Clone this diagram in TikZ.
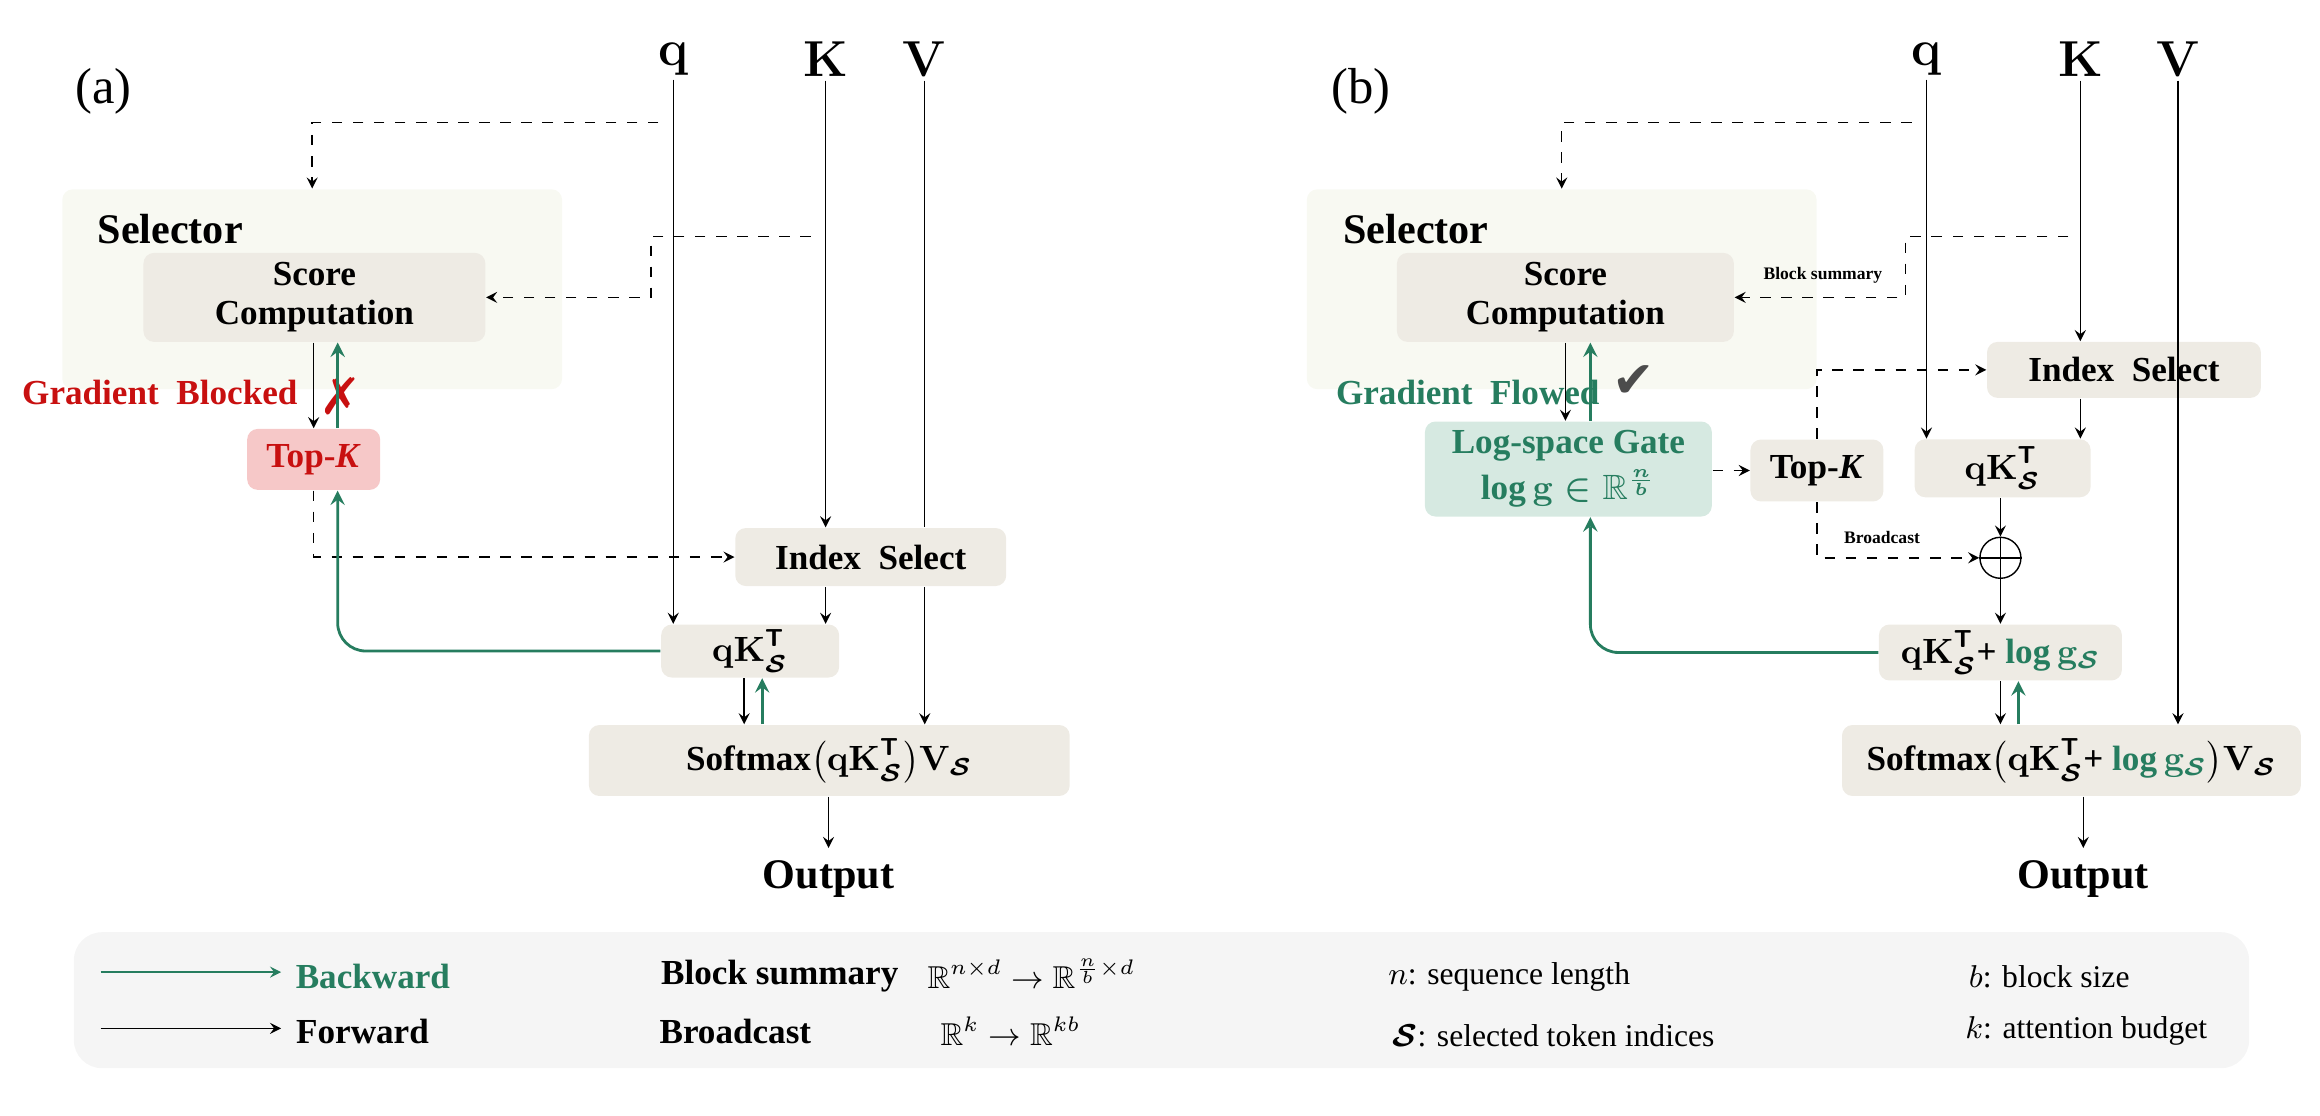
\documentclass[tikz,border=0pt]{standalone}
\usepackage{amsmath,amssymb}
\usepackage{fontspec}
\setmainfont{Liberation Serif}
\newfontfamily\symfont{DejaVu Sans}
\usetikzlibrary{positioning}
\definecolor{greenf}{RGB}{38,125,95}
\definecolor{redf}{RGB}{200,16,16}
\definecolor{boxgray}{RGB}{238,235,228}
\definecolor{selbg}{RGB}{248,249,242}
\definecolor{pinkf}{RGB}{246,200,200}
\definecolor{gatef}{RGB}{214,233,225}
\definecolor{legbg}{RGB}{245,245,245}

\begin{document}
\begin{tikzpicture}[x=0.0148cm, y=-0.0148cm,
    box/.style={fill=boxgray, rounded corners=3pt, font=\bfseries\boldmath, align=center, inner sep=0pt},
    selbox/.style={fill=selbg, rounded corners=3pt, inner sep=0pt},
    fw/.style={-stealth, black, thin},
    bw/.style={-stealth, greenf, thick},
    dsh/.style={-stealth, dashed, thin},
    big/.style={font=\Large\bfseries\boldmath, inner sep=1pt},
    small/.style={font=\tiny\bfseries, inner sep=1pt}]
    \useasboundingbox (0,0) rectangle (1568,754);

    % (a)
    \node [font=\Large] (la) at (70,62) {(a)};
    \node [big] (qa) at (455,40) {$\mathbf{q}$};
    \node [big] (ka) at (558,40) {$\mathbf{K}$};
    \node [big] (va) at (625,40) {$\mathbf{V}$};
    \node [selbox, minimum width=5.0cm, minimum height=2.0cm] (selA) at (211,195.5) {};
    \node [font=\large\bfseries] (selAt) at (115,155) {Selector};
    \node [box, minimum width=3.42cm, minimum height=0.89cm] (scoreA) at (212.5,201) {Score\\[-1pt]Computation};
    \node [box, fill=pinkf, text=redf, minimum width=1.33cm, minimum height=0.61cm] (topkA) at (212,310.5) {Top-\textit{K}};
    \node [box, minimum width=2.71cm, minimum height=0.58cm] (idxA) at (588.5,376.5) {Index~~Select};
    \node [box, minimum width=1.78cm, minimum height=0.53cm] (qkA) at (507,440) {$\mathbf{qK}_{\mathcal{S}}^{\mathsf{T}}$};
    \node [box, minimum width=4.81cm, minimum height=0.71cm] (smA) at (560.5,514) {Softmax$\big(\mathbf{qK}_{\mathcal{S}}^{\mathsf{T}}\big)\mathbf{V}_{\mathcal{S}}$};
    \node [font=\large\bfseries] (outA) at (560,594) {Output};
    \node [font=\bfseries, text=redf] (gbA) at (108,265) {Gradient~~Blocked};
    \node [font=\symfont\Large\bfseries, text=redf] (xA) at (230,268) {✗};

    \draw [fw] (qa.south) -- (qa.south |- qkA.north);
    \draw [fw] (ka.south) -- (ka.south |- idxA.north);
    \draw [fw] (ka |- idxA.south) -- (ka |- qkA.north);
    \draw (va.south) -- (va |- idxA.north);
    \draw [fw] (va |- idxA.south) -- (va |- smA.north);
    \draw [dsh] (445,83) -| (selA.north);
    \draw [dsh] (548,160) -- (440,160) |- (scoreA.east);
    \draw [fw] (scoreA.south -| topkA) -- (topkA.north);
    \draw [bw] ([xshift=0.24cm]topkA.north) -- ([xshift=0.24cm]topkA.north |- scoreA.south);
    \draw [dsh] (topkA.south) |- (idxA.west);
    \draw [bw, rounded corners=8pt] (qkA.west) -| ([xshift=0.24cm]topkA.south);
    \draw [fw] ([xshift=-0.06cm]qkA.south) -- ([xshift=-0.06cm]qkA.south |- smA.north);
    \draw [bw] ([xshift=0.12cm]qkA.south |- smA.north) -- ([xshift=0.12cm]qkA.south);
    \draw [fw] (smA.south -| outA) -- (outA.north);

    % (b)
    \node [font=\Large] (lb) at (920,62) {(b)};
    \node [big] (qb) at (1302,40) {$\mathbf{q}$};
    \node [big] (kb) at (1406,40) {$\mathbf{K}$};
    \node [big] (vb) at (1472,40) {$\mathbf{V}$};
    \node [selbox, minimum width=5.1cm, minimum height=2.0cm] (selB) at (1055.5,195.5) {};
    \node [font=\large\bfseries] (selBt) at (957,155) {Selector};
    \node [box, minimum width=3.37cm, minimum height=0.89cm] (scoreB) at (1058,201) {Score\\[-1pt]Computation};
    \node [box, fill=gatef, text=greenf, minimum width=2.87cm, minimum height=0.95cm] (gate) at (1060,317) {Log-space Gate\\[1pt]$\log\mathbf{g}\in\mathbb{R}^{\frac{n}{b}}$};
    \node [box, minimum width=1.33cm, minimum height=0.62cm] (topkB) at (1228,318) {Top-\textit{K}};
    \node [box, minimum width=2.74cm, minimum height=0.56cm] (idxB) at (1435.5,250) {Index~~Select};
    \node [box, minimum width=1.76cm, minimum height=0.58cm] (qkB) at (1353.5,316.5) {$\mathbf{qK}_{\mathcal{S}}^{\mathsf{T}}$};
    \node [draw, circle, minimum size=0.41cm, inner sep=0pt] (plus) at (1352,377) {};
    \draw (plus.north) -- (plus.south) (plus.west) -- (plus.east);
    \node [box, minimum width=2.43cm, minimum height=0.56cm] (qklB) at (1352,441) {$\mathbf{qK}_{\mathcal{S}}^{\mathsf{T}}$+ {\color{greenf}$\log\mathbf{g}_{\mathcal{S}}$}};
    \node [box, minimum width=4.59cm, minimum height=0.71cm] (smB) at (1400,514) {Softmax$\big(\mathbf{qK}_{\mathcal{S}}^{\mathsf{T}}$+ {\color{greenf}$\log\mathbf{g}_{\mathcal{S}}$}$\big)\mathbf{V}_{\mathcal{S}}$};
    \node [font=\large\bfseries] (outB) at (1408,594) {Output};
    \node [font=\bfseries, text=greenf] (gfB) at (992,265) {Gradient~~Flowed};
    \node [font=\symfont\Large, text=black!70] (ckB) at (1104,258) {✔};
    \node [small] (bsB) at (1232,186) {Block summary};
    \node [small] (bcB) at (1272,363) {Broadcast};

    \draw [fw] (qb.south) -- (qb.south |- qkB.north);
    \draw [fw] (kb.south) -- (kb.south |- idxB.north);
    \draw [fw] (kb |- idxB.south) -- (kb |- qkB.north);
    \draw [fw] (vb.south) -- (vb |- smB.north);
    \draw [dsh] (1292,83) -| (selB.north);
    \draw [dsh] (1398,160) -- (1288,160) |- (scoreB.east);
    \draw [fw] (scoreB.south) -- (scoreB.south |- gate.north);
    \draw [bw] ([xshift=0.22cm]gate.north) -- ([xshift=0.22cm]gate.north |- scoreB.south);
    \draw [dsh] (gate.east |- topkB) -- (topkB.west);
    \draw [dsh] (topkB.north) |- (idxB.west);
    \draw [dsh] (topkB.south) |- (plus.west);
    \draw [fw] (qkB.south -| plus) -- (plus.north);
    \draw [fw] (plus.south) -- (plus |- qklB.north);
    \draw [bw, rounded corners=8pt] (qklB.west) -| ([xshift=0.22cm]gate.south);
    \draw [fw] (qklB.south) -- (qklB.south |- smB.north);
    \draw [bw] ([xshift=0.18cm]qklB.south |- smB.north) -- ([xshift=0.18cm]qklB.south);
    \draw [fw] (smB.south -| outB) -- (outB.north);

    % legend
    \node [fill=legbg, rounded corners=8pt, minimum width=21.76cm, minimum height=1.36cm] (leg) at (785,676) {};
    \coordinate (lg1) at (68,657);
    \coordinate (lg2) at (190,657);
    \coordinate (lg3) at (68,695);
    \coordinate (lg4) at (190,695);
    \draw [bw, thin] (lg1) -- (lg2);
    \draw [fw] (lg3) -- (lg4);
    \node [font=\bfseries, text=greenf] (lbw) at (252,660) {Backward};
    \node [font=\bfseries] (lfw) at (245,697) {Forward};
    \node [font=\bfseries] (lbs) at (527,660) {Block summary};
    \node [font=\small] (lbsm) at (697,658) {$\mathbb{R}^{n\times d}\rightarrow\mathbb{R}^{\frac{n}{b}\times d}$};
    \node [font=\bfseries] (lbc) at (497,697) {Broadcast};
    \node [font=\small] (lbcm) at (683,697) {$\mathbb{R}^{k}\rightarrow\mathbb{R}^{kb}$};
    \node [font=\small] (ln) at (1020,660) {$n$: sequence length};
    \node [font=\small] (ls) at (1050,700) {$\boldsymbol{\mathcal{S}}$: selected token indices};
    \node [font=\small] (lb2) at (1385,660) {$b$: block size};
    \node [font=\small] (lk) at (1410,697) {$k$: attention budget};
\end{tikzpicture}
\end{document}
